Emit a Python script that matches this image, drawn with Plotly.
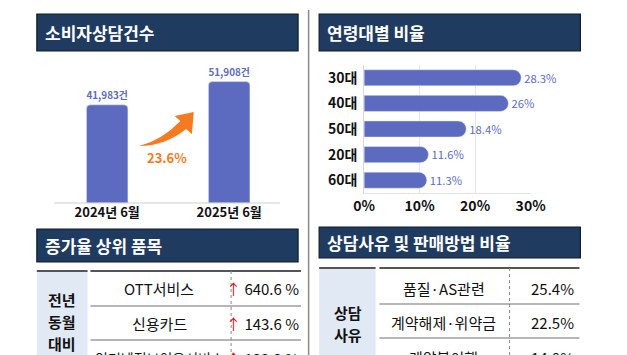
import plotly.graph_objects as go

# ---------------- data ----------------
periods = ["2024년 6월", "2025년 6월"]
counts = [41983, 51908]
growth_label = "23.6%"

age_groups = ["30대", "40대", "50대", "20대", "60대"]
age_share = [28.3, 26.0, 18.4, 11.6, 11.3]
age_ticks = [0, 10, 20, 30]

top_items = ["OTT서비스", "신용카드", "인터넷정보이용서비스"]
top_rates = [640.6, 143.6, 133.3]

reasons = ["품질·AS관련", "계약해제·위약금", "계약불이행"]
reason_share = [25.4, 22.5, 14.0]

# ---------------- helpers ----------------
W, H = 627, 355
FONT = "Noto Sans CJK KR"
NAVY = "#1f3b60"
BAR = "#5c6bc0"
ORANGE = "#f57a22"
CELL = "#e1e9f5"


def px(x):
    return x / W


def py(y):
    return 1 - y / H


fig = go.Figure()

# vertical bar chart (consultations)
fig.add_trace(go.Bar(
    x=periods, y=counts, xaxis="x", yaxis="y",
    marker=dict(color=BAR, cornerradius=4), width=0.34,
    text=[f"{v:,}건" for v in counts], textposition="outside",
    textfont=dict(family=FONT, size=13, color=BAR, weight="bold"),
    cliponaxis=False, hoverinfo="skip",
))

# horizontal bar chart (age groups)
fig.add_trace(go.Bar(
    x=age_share, y=age_groups, orientation="h", xaxis="x2", yaxis="y2",
    marker=dict(color=BAR, cornerradius=8),
    text=[f"{v:g}%" for v in age_share], textposition="outside",
    textfont=dict(family=FONT, size=14, color=BAR),
    cliponaxis=False, hoverinfo="skip",
))

shapes = []
annotations = []

# panel separator
shapes.append(dict(type="line", xref="paper", yref="paper",
                   x0=px(311), x1=px(311), y0=py(10), y1=py(355),
                   line=dict(color="#8a8a8a", width=1.5)))


def header(x0, y0, x1, y1, text):
    shapes.append(dict(type="rect", xref="paper", yref="paper",
                       x0=px(x0), x1=px(x1), y0=py(y1), y1=py(y0),
                       fillcolor=NAVY, line=dict(color="#121d2b", width=1.2)))
    annotations.append(dict(xref="paper", yref="paper", x=px(x0 + 6), y=py((y0 + y1) / 2),
                            xanchor="left", yanchor="middle", showarrow=False,
                            text=text, font=dict(family=FONT, size=17, color="white", weight="bold")))


header(27, 14, 300, 51, "소비자상담건수")
header(322, 14, 595, 51, "연령대별 비율")
header(27, 229, 300, 262, "증가율 상위 품목")
header(322, 227, 595, 258, "상담사유 및 판매방법 비율")

# baseline under vertical bars
shapes.append(dict(type="line", xref="paper", yref="paper",
                   x0=px(45), x1=px(281), y0=py(203), y1=py(203),
                   line=dict(color="#d0d0d0", width=1.2)))

# curved growth arrow (pixel path converted to paper)
pts = [("M", [(134, 146)]), ("Q", [(161, 146), (183, 129)]), ("L", [(189, 134)]),
       ("L", [(191, 112)]), ("L", [(171, 116)]), ("L", [(177, 121)]),
       ("Q", [(158, 140), (134, 146)])]
path = " ".join(c + " " + " ".join(f"{px(a):.5f},{py(b):.5f}" for a, b in p) for c, p in pts) + " Z"
shapes.append(dict(type="path", xref="paper", yref="paper", path=path,
                   fillcolor=ORANGE, line=dict(width=0)))
annotations.append(dict(xref="paper", yref="paper", x=px(163), y=py(157),
                        xanchor="center", yanchor="middle", showarrow=False, text=growth_label,
                        font=dict(family=FONT, size=13, color=ORANGE, weight="bold")))


def table(cx0, cx1, tx0, sep, tx1, top, row_lines, side_lines, side_y, side_cx,
          names, values, name_cx, value_rx, row_cy, arrow):
    # side cell
    shapes.append(dict(type="rect", xref="paper", yref="paper",
                       x0=px(cx0), x1=px(cx1), y0=py(355), y1=py(top),
                       fillcolor=CELL, line=dict(width=0), layer="below"))
    shapes.append(dict(type="line", xref="paper", yref="paper",
                       x0=px(cx0), x1=px(cx1), y0=py(top), y1=py(top),
                       line=dict(color="#555555", width=2)))
    shapes.append(dict(type="line", xref="paper", yref="paper",
                       x0=px(tx0), x1=px(tx1), y0=py(top), y1=py(top),
                       line=dict(color="#555555", width=2)))
    for yl in row_lines:
        shapes.append(dict(type="line", xref="paper", yref="paper",
                           x0=px(tx0), x1=px(tx1), y0=py(yl), y1=py(yl),
                           line=dict(color="#6e6e6e", width=1.2)))
    shapes.append(dict(type="line", xref="paper", yref="paper",
                       x0=px(sep), x1=px(sep), y0=py(top), y1=py(355),
                       line=dict(color="#888888", width=1, dash="dot")))
    for t, yy in zip(side_lines, side_y):
        annotations.append(dict(xref="paper", yref="paper", x=px(side_cx), y=py(yy),
                                xanchor="center", yanchor="middle", showarrow=False, text=t,
                                font=dict(family=FONT, size=15, color="#111", weight="bold")))
    for i, (n, v) in enumerate(zip(names, values)):
        cy = row_cy[i]
        annotations.append(dict(xref="paper", yref="paper", x=px(name_cx), y=py(cy),
                                xanchor="center", yanchor="middle", showarrow=False, text=n,
                                font=dict(family=FONT, size=15 if len(n) < 9 else 14, color="#111")))
        vt = (f"<span style='color:#e01010'>↑</span> {v:.1f} %" if arrow else f"{v:.1f}%")
        annotations.append(dict(xref="paper", yref="paper", x=px(value_rx), y=py(cy),
                                xanchor="right", yanchor="middle", showarrow=False, text=vt,
                                font=dict(family=FONT, size=15, color="#111")))


table(27, 80, 83, 230, 303, 271, [306, 340], ["전년", "동월", "대비"], [299.5, 321.3, 343.1], 53,
      top_items, top_rates, 155, 303, [288, 323, 358], True)
table(322, 381, 385, 521, 594, 268, [304, 338], ["상담", "사유"], [312, 334], 352,
      reasons, reason_share, 452, 590, [288, 322, 357], False)

fig.update_layout(
    width=W, height=H, margin=dict(l=0, r=0, t=0, b=0),
    paper_bgcolor="white", plot_bgcolor="white", showlegend=False,
    font=dict(family=FONT),
    shapes=shapes, annotations=annotations,
    xaxis=dict(domain=[px(36.75), px(291.75)], showgrid=False, zeroline=False,
               showline=False, ticks="", fixedrange=True,
               tickfont=dict(family=FONT, size=13, color="#111", weight="bold")),
    yaxis=dict(domain=[py(203), py(62.7)], range=[0, 60000], visible=False, fixedrange=True),
    xaxis2=dict(domain=[px(369), px(543)], range=[0, 30], anchor="y2", fixedrange=True,
                tickmode="array", tickvals=age_ticks, ticktext=[f"{t}%" for t in age_ticks],
                showgrid=True, gridcolor="#e6e6e6",
                zeroline=False, showline=True, linecolor="#e2e2e2", ticks="",
                tickfont=dict(family=FONT, size=14, color="#111", weight="bold")),
    yaxis2=dict(domain=[py(193), py(65)], anchor="x2", autorange="reversed", fixedrange=True,
                showgrid=False, zeroline=False, showline=True, linecolor="#d8d8d8",
                ticks="", ticklabelstandoff=3,
                tickfont=dict(family=FONT, size=14, color="#111", weight="bold")),
    bargap=0.37,
)

# remove the browser's default 8px page margin so the figure fills the window
fig.write_html("out.html", config={"displayModeBar": False},
               post_script="document.body.style.margin='0';document.body.style.overflow='hidden';")
